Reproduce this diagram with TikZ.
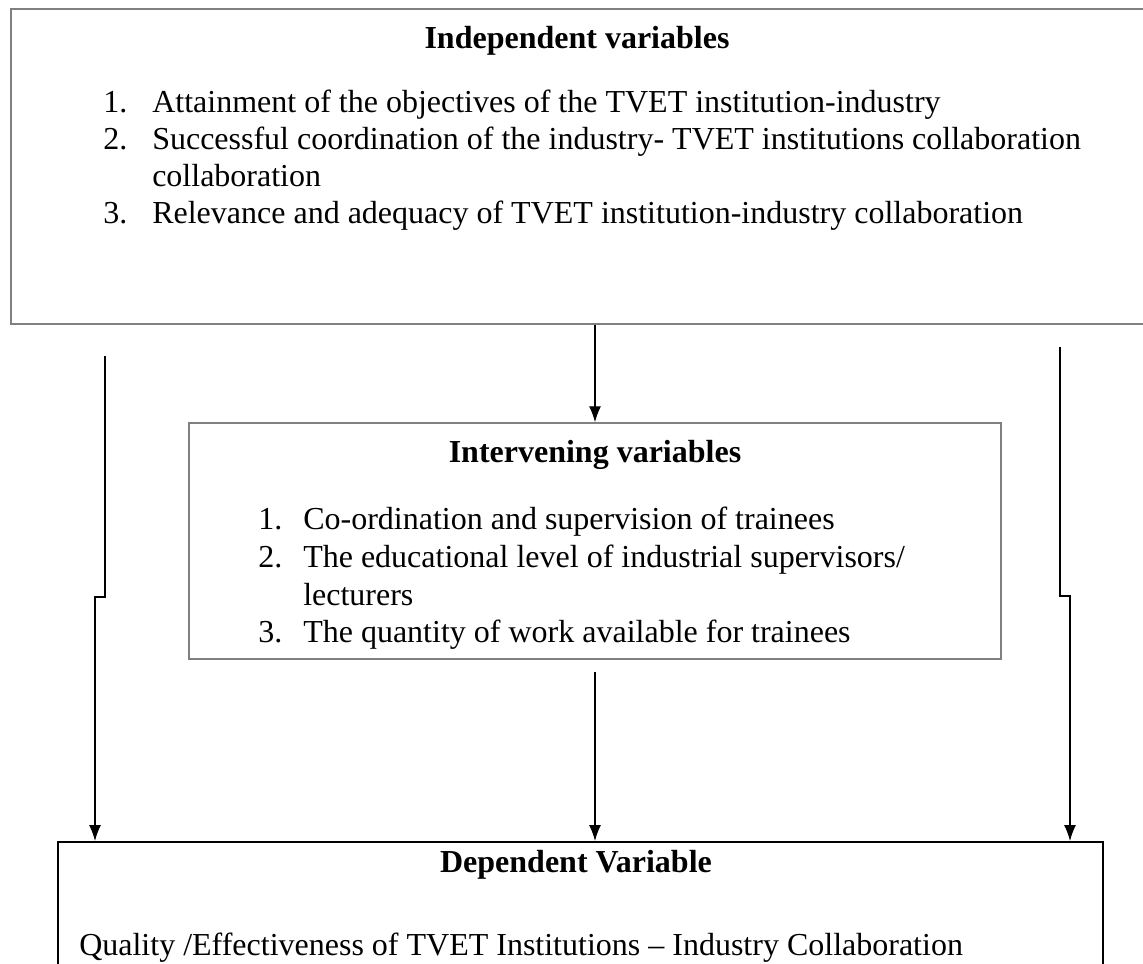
\documentclass[tikz,border=0pt]{standalone}
\usepackage{fontspec}
\setmainfont{Liberation Serif}
\usetikzlibrary{arrows.meta,fit}
\newcommand\txtsize{\fontsize{24}{28}\selectfont}
\tikzset{
  varbox/.style={draw=black!50, line width=1.1pt, inner sep=0pt},
  depbox/.style={draw=black, line width=1.5pt, inner sep=0pt},
  arr/.style={-{Latex[length=12pt,width=9pt]}, line width=0.9pt},
  head/.style={font=\txtsize\bfseries, anchor=base, inner sep=0pt},
  item/.style={font=\txtsize, anchor=base west, inner sep=0pt},
}
\begin{document}
\begin{tikzpicture}[x=0.75pt, y=-0.75pt]
    \clip (0,0) rectangle (1143,964);
    % boxes
    \node[varbox, fit={(11,9) (1150,324)}] (indep) {};
    \node[varbox, fit={(189,423) (1001,659)}] (mid) {};
    \node[depbox, fit={(58,842) (1103,1000)}] (dep) {};

    % independent variables
    \node[head] (indeptitle) at (577,48) {Independent variables};
    \node[item] (in1) at (103,112) {1.};
    \node[item] (it1) at (152,112) {Attainment of the objectives of the TVET institution-industry};
    \node[item] (in2) at (103,149) {2.};
    \node[item] (it2) at (152,149) {Successful coordination of the industry- TVET institutions collaboration};
    \node[item] (it2b) at (152,186) {collaboration};
    \node[item] (in3) at (103,223) {3.};
    \node[item] (it3) at (152,223) {Relevance and adequacy of TVET institution-industry collaboration};

    % intervening variables
    \node[head] (midtitle) at (595,462) {Intervening variables};
    \node[item] (mn1) at (258,529) {1.};
    \node[item] (mt1) at (303,529) {Co-ordination and supervision of trainees};
    \node[item] (mn2) at (258,567) {2.};
    \node[item] (mt2) at (303,567) {The educational level of industrial supervisors/};
    \node[item] (mt2b) at (303,605) {lecturers};
    \node[item] (mn3) at (258,642) {3.};
    \node[item] (mt3) at (303,642) {The quantity of work available for trainees};

    % dependent variable
    \node[head] (deptitle) at (576,872) {Dependent Variable};
    \node[item] (dt) at (79,955) {Quality /Effectiveness of TVET Institutions – Industry Collaboration};

    % arrows
    \coordinate (midout) at (595,672);
    \coordinate (lstart) at (105,356);
    \coordinate (lbend) at (95,597);
    \coordinate (rstart) at (1060,347);
    \coordinate (rbend) at (1070,596);
    \draw[arr] (indep.south -| mid.north) -- (mid.north);
    \draw[arr] (midout) -- (midout |- dep.north);
    \draw[arr] (lstart) |- (lbend) -- (lbend |- dep.north);
    \draw[arr] (rstart) |- (rbend) -- (rbend |- dep.north);
\end{tikzpicture}
\end{document}
